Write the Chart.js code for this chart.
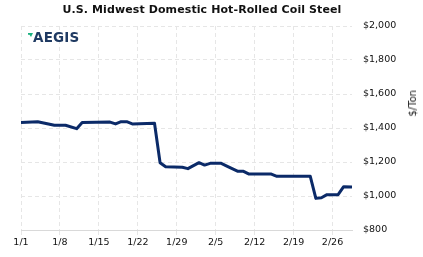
<!DOCTYPE html>
<html>
<head>
<meta charset="utf-8">
<script src="https://cdn.jsdelivr.net/npm/chart.js@4.4.1/dist/chart.umd.min.js"></script>
<style>
  body { margin: 0; background: #fff; }
  #wrap { position: relative; width: 423px; height: 257px; }
  #title { position: absolute; left: 0; top: 3px; width: 404px; text-align: center;
           font: bold 11px "DejaVu Sans", sans-serif; color: #111; letter-spacing: 0.1px; }
  #logo { position: absolute; left: 33px; top: 29px; font: bold 13.5px "DejaVu Sans", sans-serif;
          color: #1f3a62; letter-spacing: 0.2px; }
  #mark { position: absolute; left: 28px; top: 33px; width: 5px; height: 4px; background: #19b07f;
          clip-path: polygon(0 0, 100% 0, 60% 100%, 30% 45%, 0 45%); }
  #unit { position: absolute; left: 407px; top: 90px; writing-mode: vertical-rl; transform: rotate(180deg);
          font: normal 10px "DejaVu Sans", sans-serif; color: #222; white-space: nowrap; }
</style>
</head>
<body>
<div id="wrap">
  <canvas id="c" width="423" height="257"></canvas>
  <div id="title">U.S. Midwest Domestic Hot-Rolled Coil Steel</div>
  <div id="mark"></div>
  <div id="logo">AEGIS</div>
  <div id="unit">$/Ton</div>
</div>
<script>
// days since 1/1, price in $/ton
const days   = [0, 3, 6, 8, 10, 11, 16, 17, 18, 19, 20, 24, 25, 26, 29, 30, 32, 33, 34, 36, 37, 39, 40, 41, 45, 46, 52, 53, 54, 55, 57, 58, 59.5];
const prices = [1433, 1437, 1416, 1416, 1396, 1433, 1435, 1424, 1437, 1437, 1424, 1428, 1196, 1172, 1169, 1161, 1196, 1182, 1192, 1192, 1176, 1145, 1145, 1129, 1129, 1116, 1116, 986, 990, 1008, 1008, 1055, 1053];
const tickDays   = [0, 7, 14, 21, 28, 35, 42, 49, 56];
const tickLabels = ['1/1', '1/8', '1/15', '1/22', '1/29', '2/5', '2/12', '2/19', '2/26'];

const gridColor = '#e6e6e6';
const tickFont = { family: 'DejaVu Sans', size: 9.5 };

new Chart(document.getElementById('c'), {
    type: 'line',
    data: {
        datasets: [{
            data: days.map((d, i) => ({ x: d, y: prices[i] })),
            borderColor: '#0b2a68',
            borderWidth: 3,
            pointRadius: 0,
            tension: 0,
            borderJoinStyle: 'round'
        }]
    },
    options: {
        responsive: false,
        animation: false,
        layout: { padding: { left: 21, top: 26, right: 0, bottom: 0 } },
        plugins: { legend: { display: false }, tooltip: { enabled: false } },
        scales: {
            x: {
                type: 'linear',
                min: 0,
                max: 59.5,
                afterBuildTicks: s => { s.ticks = tickDays.map(v => ({ value: v })); },
                afterFit: s => { s.height = 27; },
                ticks: {
                    autoSkip: false,
                    maxRotation: 0,
                    padding: 2,
                    color: '#111',
                    font: tickFont,
                    callback: v => tickLabels[tickDays.indexOf(v)]
                },
                grid: { color: gridColor, tickLength: 5, tickBorderDash: [], tickColor: gridColor },
                border: { display: true, color: '#d9d9d9', width: 1, dash: [4, 3] }
            },
            y: {
                position: 'right',
                min: 800,
                max: 2000,
                afterFit: s => { s.width = 71; },
                ticks: {
                    stepSize: 200,
                    padding: 11,
                    color: '#111',
                    font: tickFont,
                    callback: v => '$' + v.toLocaleString('en-US')
                },
                grid: { color: gridColor, drawTicks: false },
                border: { display: false, dash: [4, 3] }
            }
        }
    }
});
</script>
</body>
</html>
